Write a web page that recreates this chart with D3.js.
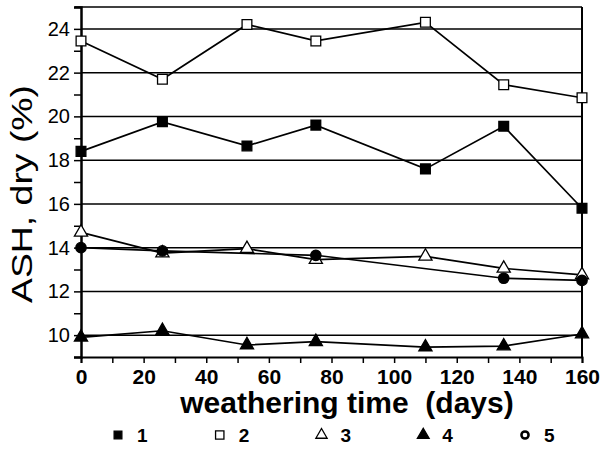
<!DOCTYPE html>
<html>
<head>
<meta charset="utf-8">
<script src="https://cdn.jsdelivr.net/npm/d3@7"></script>
<style>
  html, body { margin: 0; padding: 0; background: #fff; }
  svg { display: block; font-family: "Liberation Sans", Arial, sans-serif; }
</style>
</head>
<body>
<div id="chart"></div>
<script>
// data
const days = [0, 26, 53, 75, 110, 135, 160];
const days5 = [0, 26, 75, 135, 160];
const ash1 = [18.4, 19.75, 18.65, 19.6, 17.6, 19.55, 15.8];
const ash2 = [23.45, 21.7, 24.2, 23.45, 24.3, 21.45, 20.85];
const ash3 = [14.7, 13.75, 13.95, 13.45, 13.6, 13.05, 12.75];
const ash4 = [9.9, 10.2, 9.55, 9.7, 9.45, 9.5, 10.05];
const ash5 = [14.0, 13.85, 13.65, 12.6, 12.5];
const seriesNames = ["1", "2", "3", "4", "5"];
const gridValues = [10, 12, 14, 16, 18, 20, 22, 24];
const xTickValues = d3.range(0, 161, 10);
const yTickValues = d3.range(9, 26, 1);

const width = 601, height = 451;
const margin = { top: 7, right: 19, bottom: 94, left: 81 };
const innerWidth = width - margin.left - margin.right;
const innerHeight = height - margin.top - margin.bottom;

const svg = d3.select("#chart").append("svg")
    .attr("width", width)
    .attr("height", height);

const g = svg.append("g")
    .attr("transform", `translate(${margin.left},${margin.top})`);

const xScale = d3.scaleLinear().domain([0, 160]).range([0, innerWidth]);
const yScale = d3.scaleLinear().domain([9, 25]).range([innerHeight, 0]);

// gridlines
g.selectAll(".grid")
    .data(gridValues)
    .join("line")
    .attr("x1", 0)
    .attr("x2", innerWidth)
    .attr("y1", d => yScale(d))
    .attr("y2", d => yScale(d))
    .attr("stroke", "#000")
    .attr("stroke-width", 1.5);

// frame top + right
g.append("line")
    .attr("x1", -6).attr("x2", innerWidth)
    .attr("y1", yScale(25)).attr("y2", yScale(25))
    .attr("stroke", "#000").attr("stroke-width", 1.5);
g.append("line")
    .attr("x1", xScale(160)).attr("x2", xScale(160))
    .attr("y1", yScale(25)).attr("y2", innerHeight)
    .attr("stroke", "#000").attr("stroke-width", 2);

// axes
const leftAxis = d3.axisLeft(yScale)
    .tickValues(yTickValues)
    .tickSize(7)
    .tickPadding(4)
    .tickFormat(d => (d % 2 === 0 && d >= 10 && d <= 24) ? d : "");
const yAxisG = g.append("g").call(leftAxis);
yAxisG.select(".domain").attr("stroke-width", 2.5);
yAxisG.selectAll(".tick line").attr("stroke-width", 1.5);
yAxisG.selectAll("text")
    .attr("font-size", 20)
    .attr("font-family", "'Liberation Sans', Arial, sans-serif")
    .attr("fill", "#000");
yAxisG.selectAll("text").filter(function() { return this.textContent === ""; }).remove();

const bottomAxis = d3.axisBottom(xScale)
    .tickValues(xTickValues)
    .tickSize(6)
    .tickPadding(6)
    .tickFormat(d => d % 20 === 0 ? d : "");
const xAxisG = g.append("g")
    .attr("transform", `translate(0,${innerHeight})`)
    .call(bottomAxis);
xAxisG.select(".domain").attr("stroke-width", 2);
xAxisG.selectAll(".tick line").attr("stroke-width", 1.5);
xAxisG.selectAll("text")
    .attr("font-size", 21)
    .attr("font-weight", "bold")
    .attr("font-family", "'Liberation Sans', Arial, sans-serif")
    .attr("fill", "#000");
xAxisG.selectAll("text").filter(function() { return this.textContent === ""; }).remove();

// series
const series = [
    { name: "1", x: days, y: ash1, shape: d3.symbolSquare, size: 95, fill: "#000" },
    { name: "2", x: days, y: ash2, shape: d3.symbolSquare, size: 95, fill: "#fff" },
    { name: "3", x: days, y: ash3, shape: d3.symbolTriangle, size: 75, fill: "#fff" },
    { name: "4", x: days, y: ash4, shape: d3.symbolTriangle, size: 75, fill: "#000" },
    { name: "5", x: days5, y: ash5, shape: d3.symbolCircle, size: 85, fill: "#000" }
];

const line = d3.line()
    .x(d => xScale(d[0]))
    .y(d => yScale(d[1]));

series.forEach(s => {
    const pts = s.x.map((d, i) => [d, s.y[i]]);
    g.append("path")
        .datum(pts)
        .attr("d", line)
        .attr("fill", "none")
        .attr("stroke", "#000")
        .attr("stroke-width", 1.7);
    g.selectAll(null)
        .data(pts)
        .join("path")
        .attr("transform", d => `translate(${xScale(d[0])},${yScale(d[1])})`)
        .attr("d", d3.symbol().type(s.shape).size(s.size))
        .attr("fill", s.fill)
        .attr("stroke", "#000")
        .attr("stroke-width", 1.3);
});

// axis titles
svg.append("text")
    .text("weathering time  (days)")
    .attr("x", 347)
    .attr("y", 413)
    .attr("text-anchor", "middle")
    .attr("font-size", 30)
    .attr("font-weight", "bold")
    .attr("fill", "#000")
    .style("white-space", "pre");

svg.append("text")
    .text("ASH, dry (%)")
    .attr("transform", "translate(32,194) rotate(-90)")
    .attr("text-anchor", "middle")
    .attr("font-size", 29)
    .attr("textLength", 218)
    .attr("lengthAdjust", "spacingAndGlyphs")
    .attr("fill", "#000");

// legend
const legendX = d3.scalePoint().domain(seriesNames).range([118, 525]);
const legendY = 435;
const legendSymbols = [
    { shape: d3.symbolSquare, size: 60, fill: "#000" },
    { shape: d3.symbolSquare, size: 70, fill: "#fff" },
    { shape: d3.symbolTriangle, size: 55, fill: "#fff" },
    { shape: d3.symbolTriangle, size: 60, fill: "#000" },
    { shape: d3.symbolCircle, size: 40, fill: "#fff" }
];
seriesNames.forEach((n, i) => {
    const ls = legendSymbols[i];
    svg.append("path")
        .attr("transform", `translate(${legendX(n)},${legendY})`)
        .attr("d", d3.symbol().type(ls.shape).size(ls.size))
        .attr("fill", ls.fill)
        .attr("stroke", "#000")
        .attr("stroke-width", i === 4 ? 2.5 : 1.3);
    svg.append("text")
        .text(n)
        .attr("x", legendX(n) + 19)
        .attr("y", legendY + 7)
        .attr("font-size", 19)
        .attr("font-weight", "bold")
        .attr("fill", "#000");
});
</script>
</body>
</html>
